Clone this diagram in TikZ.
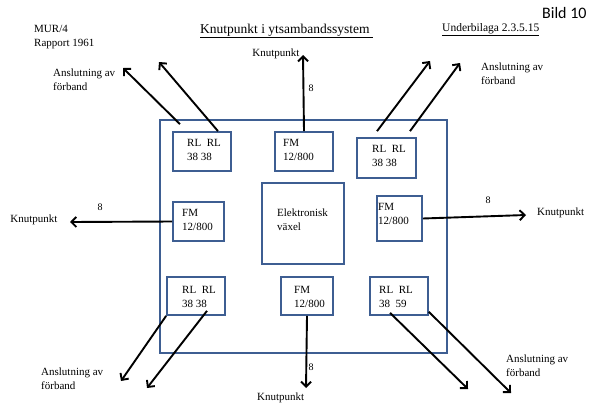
\documentclass[tikz,border=0pt]{standalone}
\usepackage{fontspec}
\setmainfont{Liberation Serif}
\newfontfamily\bildfont{Carlito}
\usetikzlibrary{arrows.meta,calc}
\definecolor{framebl}{RGB}{62,94,146}
\begin{document}
\begin{tikzpicture}[x=1pt,y=-1pt,
  box/.style={draw=framebl,line width=1.7pt,inner sep=0pt},
  txt/.style={font=\fontsize{11}{14}\selectfont,align=left,inner sep=0pt,anchor=west},
  link/.style={line width=1.9pt,-{Straight Barb[length=5pt,width=10pt]}},
  cnt/.style={font=\fontsize{10}{12}\selectfont,inner sep=0pt}]
\useasboundingbox (0,0) rectangle (593,407);

% header
\node[txt] (mur) at (34,37.5) {MUR/4\\Rapport 1961};
\node[font=\fontsize{13.5}{16}\selectfont,inner sep=0pt,anchor=west] (title) at (200,31) {\underline{Knutpunkt i ytsambandssystem\ }};
\node[font=\fontsize{11.5}{14}\selectfont,inner sep=0pt,anchor=west] (sub) at (442,30) {\underline{Underbilaga 2.3.5.15}};
\node[font=\fontsize{16}{18}\bildfont,inner sep=0pt,anchor=west] (bild) at (542,13) {Bild 10};

% station frame and units
\node[box,minimum width=287pt,minimum height=233pt] (frame) at (303.5,236.5) {};
\node[box,minimum width=58pt,minimum height=39pt] (rl1) at (202,151.5) {};
\node[box,minimum width=58pt,minimum height=39pt] (fm1) at (304,151.5) {};
\node[box,minimum width=59pt,minimum height=40pt] (rl2) at (386.5,158) {};
\node[box,minimum width=51pt,minimum height=39pt] (fm2) at (198.5,221.5) {};
\node[box,minimum width=82pt,minimum height=81pt] (vx) at (303,223.5) {};
\node[box,minimum width=45pt,minimum height=45pt] (fm3) at (399.5,218.5) {};
\node[box,minimum width=58pt,minimum height=38pt] (rl3) at (196,296) {};
\node[box,minimum width=52pt,minimum height=38pt] (fm4) at (307,296) {};
\node[box,minimum width=58pt,minimum height=38pt] (rl4) at (399,296) {};

% unit texts
\node[txt] (trl1) at (187,150) {RL\ \ RL\\38 38};
\node[txt] (tfm1) at (283,150) {FM\\12/800};
\node[txt] (trl2) at (372,156) {RL\ \ RL\\38 38};
\node[txt] (tfm2) at (182,220) {FM\\12/800};
\node[txt] (tvx)  at (277,220) {Elektronisk\\v\"axel};
\node[txt] (tfm3) at (378,213.5) {FM\\12/800};
\node[txt] (trl3) at (182,297) {RL\ \ RL\\38 38};
\node[txt] (tfm4) at (294,297) {FM\\12/800};
\node[txt] (trl4) at (379,297) {RL\ \ RL\\38\ \ 59};

% outside labels
\node[txt] (anTL) at (53,80) {Anslutning av\\f\"orband};
\node[txt] (anTR) at (481,74) {Anslutning av\\f\"orband};
\node[txt] (anBL) at (41,379) {Anslutning av\\f\"orband};
\node[txt] (anBR) at (506,366) {Anslutning av\\f\"orband};
\node[txt,anchor=center] (kpT) at (276,54) {Knutpunkt};
\node[txt,anchor=center] (kpL) at (34,220) {Knutpunkt};
\node[txt] (kpR) at (537,213) {Knutpunkt};
\node[txt] (kpB) at (257,398) {Knutpunkt};
\node[cnt] (nT) at (311,88) {8};
\node[cnt] (nL) at (100,207) {8};
\node[cnt] (nR) at (488,200) {8};
\node[cnt] (nB) at (311,367) {8};

% free arrow ends
\coordinate (hTL1) at (123,68);
\coordinate (hTL2) at (159,62);
\coordinate (hT)   at (303,55);
\coordinate (hTR1) at (430,61);
\coordinate (hTR2) at (460,63);
\coordinate (hL)   at (70,222);
\coordinate (hR)   at (526,215);
\coordinate (hBL1) at (121,381);
\coordinate (hBL2) at (147,388);
\coordinate (hB)   at (306,388);
\coordinate (hBR1) at (468,389);
\coordinate (hBR2) at (511,393);

% links
\draw[link] ([xshift=-22pt,yshift=7pt]rl1.north) -- (hTL1);
\draw[link] ([xshift=16pt]rl1.north) -- (hTL2);
\draw[link] (fm1.north) -- (hT);
\draw[link] ([xshift=-9.5pt,yshift=6pt]rl2.north) -- (hTR1);
\draw[link] ([xshift=23.5pt,yshift=6pt]rl2.north) -- (hTR2);
\draw[link] (fm2.west) -- (hL);
\draw[link] (fm3.east) -- (hR);
\draw[link] (rl3.south west) -- (hBL1);
\draw[link] ([xshift=11pt,yshift=5pt]rl3.south) -- (hBL2);
\draw[link] (fm4.south) -- (hB);
\draw[link] ([xshift=-9pt,yshift=3pt]rl4.south) -- (hBR1);
\draw[link] ([yshift=4pt]rl4.south east) -- (hBR2);
\end{tikzpicture}
\end{document}
